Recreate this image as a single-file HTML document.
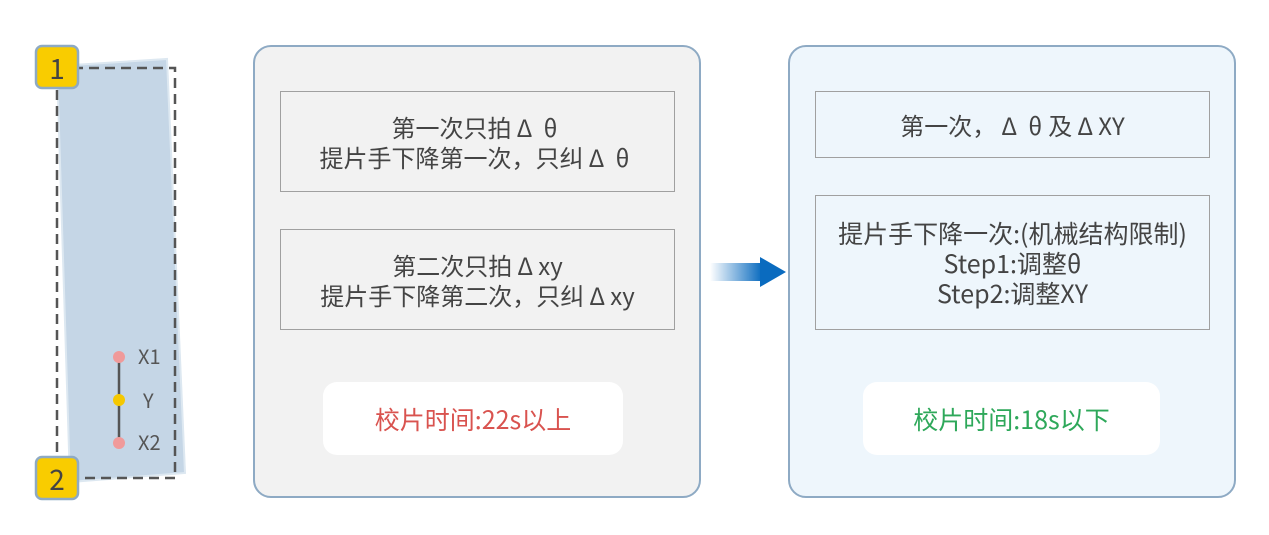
<!DOCTYPE html>
<html><head><meta charset="utf-8"><style>
body{margin:0;width:1269px;height:535px;background:#fff;position:relative;overflow:hidden;font-family:"Noto Sans CJK SC","Liberation Sans",sans-serif;color:#444}
.a{position:absolute;box-sizing:border-box}
.panel{border:2px solid #8eaac4;border-radius:18px}
.box{border:1.5px solid #a0a0a0;display:flex;align-items:center;justify-content:center;text-align:center;font-size:24px;line-height:30px}
.pill{background:#fff;border-radius:14px;display:flex;align-items:center;justify-content:center;font-size:25px}
.g{display:inline-block;width:26px;text-align:center}
</style></head><body>
<svg class="a" style="left:0;top:0" width="1269" height="535">
<polygon points="57,66 167,59 185,473 70,482" fill="#c5d6e6" stroke="#dde8f1" stroke-width="2"/>
<rect x="57" y="68" width="118" height="410" fill="none" stroke="#555" stroke-width="2.5" stroke-dasharray="10,6"/>
<line x1="119" y1="357" x2="119" y2="443" stroke="#555" stroke-width="2.5"/>
<circle cx="119" cy="357" r="6" fill="#f09a9a"/>
<circle cx="119" cy="400" r="6" fill="#f5c800"/>
<circle cx="119" cy="443" r="6" fill="#f09a9a"/>
<text x="138" y="364" font-size="20" fill="#555" font-family="Noto Sans CJK SC">X1</text>
<text x="143" y="408" font-size="20" fill="#555" font-family="Noto Sans CJK SC">Y</text>
<text x="138" y="450" font-size="20" fill="#555" font-family="Noto Sans CJK SC">X2</text>
<rect x="36" y="46" width="42" height="42" rx="6" fill="#f9cc00" stroke="#8eaac4" stroke-width="2.5"/>
<text x="57" y="79" font-size="28" fill="#444" text-anchor="middle" font-family="Noto Sans CJK SC">1</text>
<rect x="36" y="457" width="42" height="42" rx="6" fill="#f9cc00" stroke="#8eaac4" stroke-width="2.5"/>
<text x="57" y="490" font-size="28" fill="#444" text-anchor="middle" font-family="Noto Sans CJK SC">2</text>
<defs><linearGradient id="g" x1="0" x2="1"><stop offset="0" stop-color="#0a6bbf" stop-opacity="0"/><stop offset="1" stop-color="#0a6bbf"/></linearGradient></defs>
<rect x="710" y="263" width="52" height="18" fill="url(#g)"/>
<polygon points="760,257 760,287 786,272" fill="#0a6bbf"/>
</svg>
<div class="a panel" style="left:253px;top:45px;width:448px;height:453px;background:#f2f2f2"></div>
<div class="a box" style="left:280px;top:91px;width:395px;height:101px"><div>第一次只拍<span class="g">Δ</span><span class="g">θ</span><br>提片手下降第一次，只纠<span class="g">Δ</span><span class="g">θ</span></div></div>
<div class="a box" style="left:280px;top:229px;width:395px;height:101px"><div>第二次只拍<span class="g">Δ</span>xy<br>提片手下降第二次，只纠<span class="g">Δ</span>xy</div></div>
<div class="a pill" style="left:323px;top:382px;width:300px;height:73px;color:#d9534f">校片时间:22s以上</div>
<div class="a panel" style="left:788px;top:45px;width:448px;height:453px;background:#eef6fc"></div>
<div class="a box" style="left:815px;top:91px;width:395px;height:67px"><div>第一次，<span class="g">Δ</span><span class="g">θ</span>及<span class="g">Δ</span>XY</div></div>
<div class="a box" style="left:815px;top:195px;width:395px;height:135px;font-size:25px"><div>提片手下降一次:(机械结构限制)<br>Step1:调整θ<br>Step2:调整XY</div></div>
<div class="a pill" style="left:863px;top:382px;width:297px;height:73px;color:#2ea85a">校片时间:18s以下</div>
</body></html>
